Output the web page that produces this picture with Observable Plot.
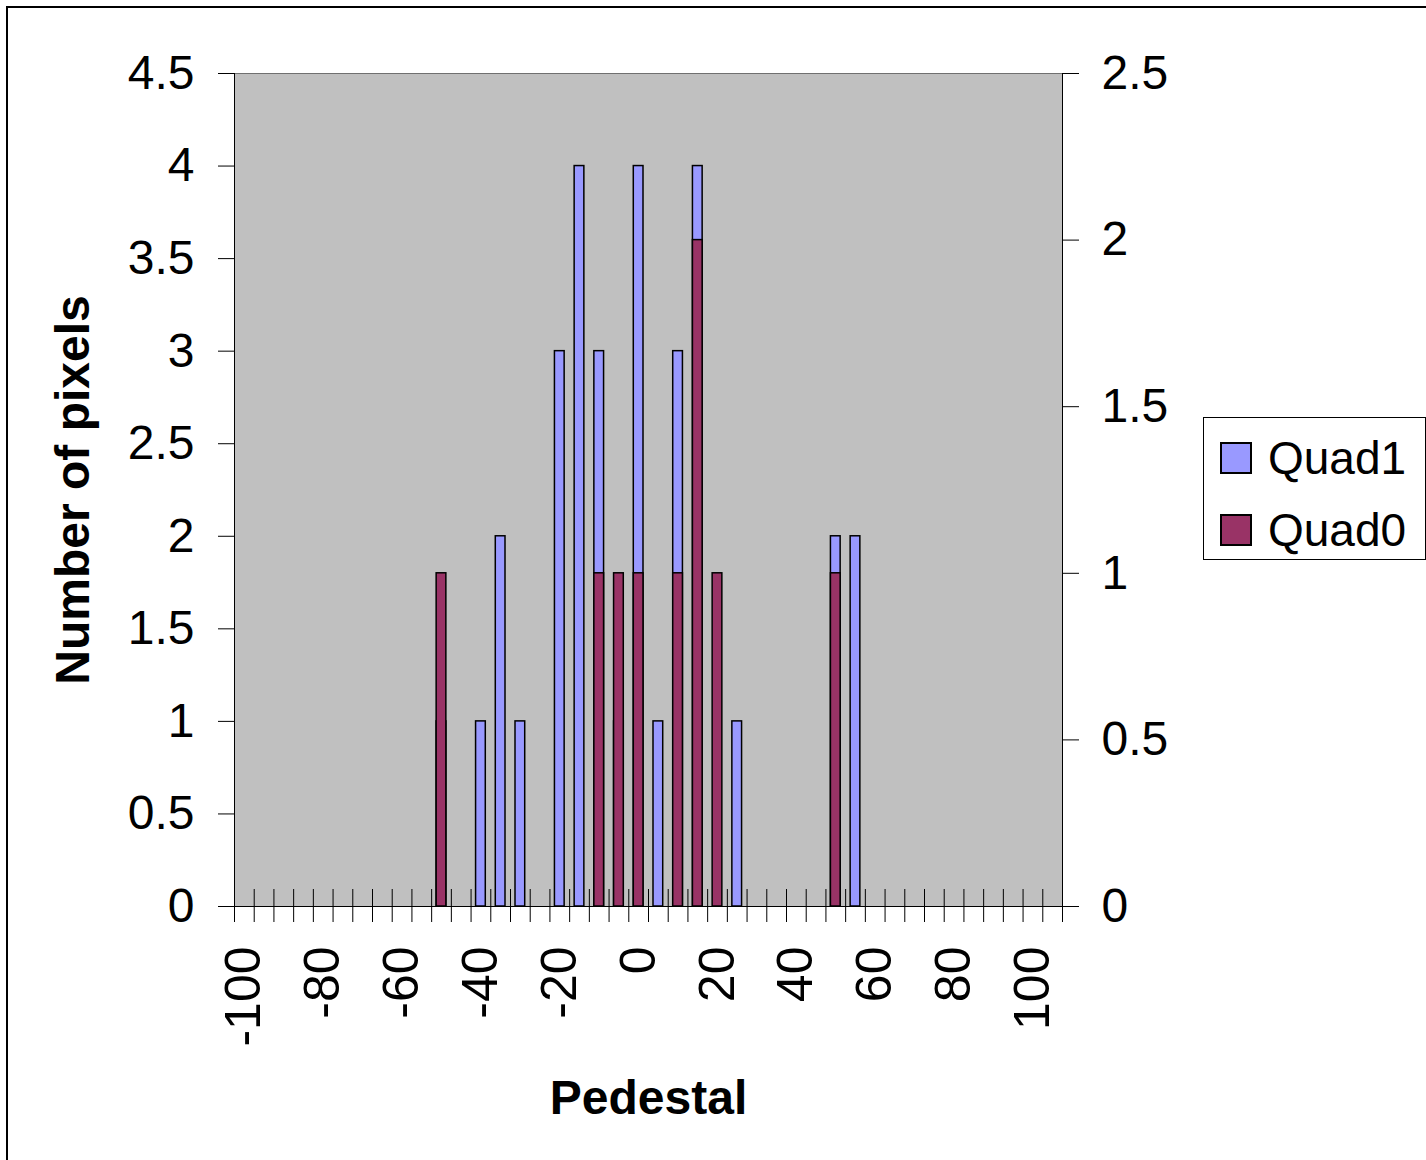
<!DOCTYPE html>
<html><head><meta charset="utf-8">
<script src="https://cdn.jsdelivr.net/npm/d3@7"></script>
<script src="https://cdn.jsdelivr.net/npm/@observablehq/plot@0.6"></script>
<style>
html,body{margin:0;padding:0;background:#fff;}
#wrap{position:relative;width:1426px;height:1160px;overflow:hidden;font-family:"Liberation Sans",Arial,sans-serif;}
#frame{position:absolute;left:6px;top:6px;width:1440px;height:1180px;border-left:2px solid #000;border-top:2px solid #000;pointer-events:none;}
#legend{position:absolute;left:1203px;top:417px;width:223px;height:143px;border:1px solid #000;background:#fff;box-sizing:border-box;}
.item{position:absolute;left:16px;display:flex;align-items:center;font-size:46px;line-height:50px;height:50px;color:#000;}
.sw{width:28px;height:28px;border:2px solid #000;margin-right:16px;}
</style></head>
<body><div id="wrap"><div id="chart"></div><div id="frame"></div><div id="legend"></div></div>
<script>
const categories = [-100,-95,-90,-85,-80,-75,-70,-65,-60,-55,-50,-45,-40,-35,-30,-25,-20,-15,-10,-5,0,5,10,15,20,25,30,35,40,45,50,55,60,65,70,75,80,85,90,95,100,105];
const quad1 = [0,0,0,0,0,0,0,0,0,0,1,0,1,2,1,0,3,4,3,1,4,1,3,4,0,1,0,0,0,0,2,2,0,0,0,0,0,0,0,0,0,0];
const quad0 = [0,0,0,0,0,0,0,0,0,0,1,0,0,0,0,0,0,0,1,1,1,0,1,2,1,0,0,0,0,0,1,0,0,0,0,0,0,0,0,0,0,0];
const leftTicks = [0,0.5,1,1.5,2,2.5,3,3.5,4,4.5];
const rightTicks = [0,0.5,1,1.5,2,2.5];
const xLabels = [-100,-80,-60,-40,-20,0,20,40,60,80,100];
const seriesNames = ["Quad1","Quad0"];
const seriesColors = ["#9999ff","#993366"];
const xTitle = "Pedestal";
const yTitle = "Number of pixels";

const ratio = d3.max(leftTicks) / d3.max(rightTicks);
const step = categories[1] - categories[0];
const bounds = categories.map(c => c - step / 2).concat([categories[categories.length - 1] + step / 2]);
const rows1 = categories.map((c, i) => ({cat: c, v: quad1[i]})).filter(d => d.v > 0);
const rows0 = categories.map((c, i) => ({cat: c, v: quad0[i]})).filter(d => d.v > 0);
const fmt = d => String(+(+d).toFixed(3));

const chart = Plot.plot({
  width: 1426, height: 1160,
  marginLeft: 234, marginRight: 364, marginTop: 73, marginBottom: 254,
  style: {fontFamily: '"Liberation Sans", Arial, sans-serif', background: "transparent", color: "#000"},
  x: {type: "linear", domain: [bounds[0], bounds[bounds.length - 1]]},
  y: {domain: [0, d3.max(leftTicks)]},
  marks: [
    Plot.frame({fill: "#c0c0c0", stroke: "#707070"}),
    Plot.ruleX([bounds[0], bounds[bounds.length - 1]], {stroke: "#000"}),
    Plot.rectY(rows1, {x1: d => d.cat - step / 2, x2: d => d.cat + step / 2, y: "v", insetLeft: 5, insetRight: 5, fill: seriesColors[0], stroke: "#000", strokeWidth: 1.5}),
    Plot.rectY(rows0, {x1: d => d.cat - step / 2, x2: d => d.cat + step / 2, y: d => d.v * ratio, insetLeft: 5, insetRight: 5, fill: seriesColors[1], stroke: "#000", strokeWidth: 1.5}),
    Plot.ruleY([0], {stroke: "#000"}),
    Plot.ruleX(bounds, {y1: 0, y2: 0, insetTop: 16, insetBottom: 17, stroke: "#000"}),
    Plot.axisY(leftTicks, {anchor: "left", tickSize: 16, tickPadding: 24, tickFormat: fmt, fontSize: 48, label: null}),
    Plot.axisY(rightTicks.map(t => t * ratio), {anchor: "right", tickSize: 16, tickPadding: 23, tickFormat: d => fmt(d / ratio), fontSize: 48, label: null}),
    Plot.axisX(xLabels, {anchor: "bottom", tickSize: 0, tickPadding: 40, tickRotate: -90, tickFormat: d => String(d), fontSize: 50, label: null}),
    Plot.text([yTitle], {frameAnchor: "left", dx: -161, rotate: -90, textAnchor: "middle", lineAnchor: "middle", fontSize: 48, fontWeight: "bold"}),
    Plot.text([xTitle], {frameAnchor: "bottom", dy: 192, textAnchor: "middle", lineAnchor: "middle", fontSize: 48, fontWeight: "bold"})
  ]
});
document.getElementById("chart").appendChild(chart);

const legend = d3.select("#legend");
seriesNames.forEach((name, i) => {
  const item = legend.append("div").attr("class", "item").style("top", (15 + i * 72) + "px");
  item.append("div").attr("class", "sw").style("background", seriesColors[i]);
  item.append("span").text(name);
});
</script>
</body></html>
